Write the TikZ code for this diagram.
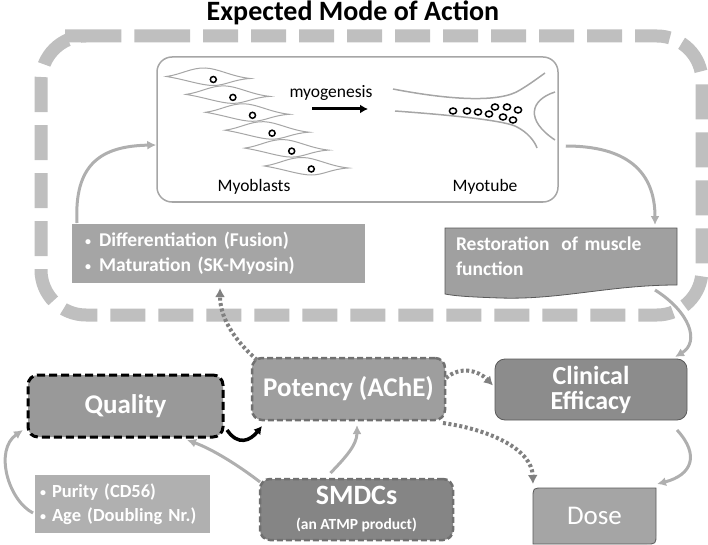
\documentclass[tikz,border=0pt]{standalone}
\usepackage{fontspec}
\setmainfont{Carlito}
\usetikzlibrary{arrows.meta,calc}
\definecolor{framegray}{HTML}{BFBFBF}
\definecolor{linegray}{HTML}{A6A6A6}
\definecolor{arrowgray}{HTML}{AFAFAF}
\definecolor{dotgray}{HTML}{808080}
\definecolor{bulletfill}{HTML}{A5A5A5}
\definecolor{restfill}{HTML}{A0A0A0}
\definecolor{clinfill}{HTML}{8C8C8C}
\definecolor{dosefill}{HTML}{A5A5A5}
\definecolor{potfill}{HTML}{9E9E9E}
\definecolor{qualfill}{HTML}{999999}
\definecolor{smdcfill}{HTML}{858585}
\definecolor{purfill}{HTML}{B0B0B0}
\definecolor{darkborder}{HTML}{595959}
\definecolor{dashborder}{HTML}{707070}
\newcommand{\smallbul}{{\fontsize{12}{12}\selectfont\raisebox{1pt}{•}}}
\begin{document}
\begin{tikzpicture}[x=1pt,y=-1pt,
  box/.style={rectangle, inner sep=0pt, outer sep=0pt, text=white},
  bigtxt/.style={font=\fontsize{27}{24}\selectfont\bfseries},
  midtxt/.style={font=\fontsize{19.5}{25}\selectfont\bfseries},
  smalltxt/.style={font=\fontsize{17.5}{20}\selectfont},
  garrow/.style={draw=arrowgray, line width=3pt, -{Latex[length=9pt,width=9pt]}},
  darrow/.style={draw=dotgray, line width=4pt, dash pattern=on 3pt off 2.5pt, -{Latex[length=9pt,width=10pt]}},
  karrow/.style={draw=black, line width=3.5pt, -{Latex[length=8pt,width=9pt]}},
  cell/.style={draw=linegray, line width=1pt, fill=white},
  nuc/.style={draw=black, line width=1.5pt, fill=white},
  frame/.style={draw=framegray, line width=13pt, dash pattern=on 35pt off 13pt}
]
\useasboundingbox (0,0) rectangle (708,545);

% title
\node[font=\fontsize{28}{30}\selectfont\bfseries] (title) at (353,13) {Expected Mode of Action};

% dashed frame
\draw[frame, rounded corners=45pt] (110,36) -- (702,36) -- (702,315) -- (41,315) -- (41,36) -- cycle;

% inner picture box
\node[draw=linegray, line width=1.5pt, rounded corners=15pt, minimum width=401pt, minimum height=145pt, inner sep=0pt] (inner) at (357.5,129.5) {};

% myoblast cells
\foreach \i in {0,...,5}{
  \begin{scope}[shift={(213.3+19.6*\i,79.5+17.9*\i)}]
    \draw[cell] (-47,-3) .. controls (-32,-5) and (-22,-12) .. (-8,-11.5) .. controls (5,-11) and (18,-3) .. (37,-1) .. controls (20,0) and (12,6) .. (0,6) .. controls (-12,6) and (-28,0) .. (-47,-3) -- cycle;
    \draw[nuc] (0,0) circle (3pt);
  \end{scope}
}

% myotube
\draw[linegray, line width=1.5pt] (393,89) .. controls (450,100) and (500,103) .. (520,90) .. controls (530,84) and (538,78) .. (545,73);
\draw[linegray, line width=1.5pt] (395,111) .. controls (450,115) and (500,120) .. (515,126) .. controls (528,132) and (535,142) .. (537,148);
\draw[linegray, line width=1.5pt] (555,92) .. controls (530,100) and (525,120) .. (555,140);
\foreach \p in {(453,111),(467,111),(478,112),(489,114),(495,107),(503,117),(507,107),(513,120),(518,110)}{
  \draw[nuc] \p ellipse (3.6pt and 3pt);
}

% inner texts
\node[smalltxt] (myog) at (331,93) {myogenesis};
\coordinate (mg1) at (312,109);
\coordinate (mg2) at (368,109);
\draw[black, line width=3pt, -{Latex[length=8pt,width=9pt]}] (mg1) -- (mg2);
\node[smalltxt] (myoblasts) at (254,187) {Myoblasts};
\node[smalltxt] (myotube) at (485,187) {Myotube};

% bullet box
\node[box, fill=bulletfill, minimum width=293pt, minimum height=59pt, text width=267pt, align=left, midtxt] (bullet) at (218.5,253.5)
 {\makebox[14pt][l]{\smallbul}Differentiation (Fusion)\\\makebox[14pt][l]{\smallbul}Maturation (SK-Myosin)};

% restoration box (document shape)
\filldraw[fill=restfill, draw=darkborder, line width=0.8pt] (445,228) -- (677,228) -- (677,285) .. controls (610,285) and (560,300) .. (500,298) .. controls (470,297) and (455,296) .. (445,294) -- cycle;
\node[box, minimum width=232pt, minimum height=57pt, text width=210pt, align=left, midtxt] (rest) at (561,256.5)
 {Restoration\hspace{12pt}of muscle\\function};

% clinical efficacy
\node[box, fill=clinfill, draw=darkborder, line width=0.8pt, rounded corners=10pt, minimum width=192pt, minimum height=61pt, align=center, font=\fontsize{26}{25}\selectfont\bfseries] (clin) at (591,389.5) {Clinical\\Efficacy};

% dose
\filldraw[fill=dosefill, draw=darkborder, line width=0.8pt] (533,544) -- (533,498) .. controls (533,488) .. (543,488) -- (656,488) -- (656,534) .. controls (656,544) .. (646,544) -- cycle;
\node[box, minimum width=123pt, minimum height=56pt, font=\fontsize{27}{29}\selectfont] (dose) at (594.5,516) {Dose};

% potency
\node[box, fill=potfill, draw=dashborder, line width=2.5pt, dash pattern=on 6pt off 3pt, rounded corners=10pt, minimum width=193pt, minimum height=62pt, bigtxt] (pot) at (348.5,389) {Potency (AChE)};

% quality
\node[box, fill=qualfill, draw=black, line width=3pt, dash pattern=on 8pt off 4pt, rounded corners=10pt, minimum width=195pt, minimum height=62pt, bigtxt] (qual) at (125.5,406) {Quality};

% SMDCs
\node[box, fill=smdcfill, draw=dashborder, line width=2.5pt, dash pattern=on 6pt off 3pt, rounded corners=10pt, minimum width=193pt, minimum height=61pt, align=center, font=\fontsize{15.5}{25}\selectfont\bfseries] (smdc) at (356.5,509.5)
 {{\fontsize{28}{25}\selectfont SMDCs}\\{\fontsize{15.5}{25}\selectfont (an ATMP product)}};

% purity
\node[box, fill=purfill, minimum width=175pt, minimum height=58pt, text width=165pt, align=left, font=\fontsize{18.5}{24}\selectfont\bfseries] (pur) at (122.5,504)
 {\makebox[12pt][l]{\smallbul}Purity (CD56)\\\makebox[12pt][l]{\smallbul}Age (Doubling Nr.)};

% gray connectors
\draw[garrow] ($(bullet.north west)+(5,-1)$) .. controls (74,165) and (100,146) .. ($(inner.west)+(0,15.5)$);
\draw[garrow] ($(inner.east)+(7,16.5)$) .. controls (625,146) and (655,170) .. ($(rest.north)+(94,-3)$);
\draw[garrow] ($(rest.north east)+(-22,62)$) .. controls (690,312) and (700,342) .. ($(clin.north east)+(-12,-2)$);
\draw[garrow] ($(clin.south east)+(-10,10)$) .. controls (700,455) and (692,475) .. ($(dose.north east)+(1,-4)$);
\draw[garrow] ($(pur.west)+(-2,9)$) .. controls (8,500) and (-6,450) .. ($(qual.south west)+(-5,-7)$);
\draw[garrow] ($(smdc.north west)+(0,3)$) .. controls (238,465) and (212,449) .. ($(qual.south east)+(-36,3)$);
\draw[garrow] ($(smdc.north)+(-26,-6)$) .. controls (345,458) and (357,445) .. ($(pot.south)+(8.5,5)$);

% black connector
\draw[karrow] ($(qual.south east)+(4,-7)$) .. controls (238,446) and (250,441) .. ($(pot.south west)+(10,6)$);

% dotted connectors
\draw[darrow] ($(pot.north west)+(5,2)$) .. controls (240,345) and (220,322) .. ($(bullet.south)+(1.5,5)$);
\draw[darrow] ($(pot.east)+(1,-11)$) .. controls (460,366) and (478,370) .. ($(clin.west)+(-2,-4)$);
\draw[darrow] ($(pot.south east)+(-2,3)$) .. controls (492,430) and (532,450) .. ($(dose.north west)+(0,-4)$);
\end{tikzpicture}
\end{document}
